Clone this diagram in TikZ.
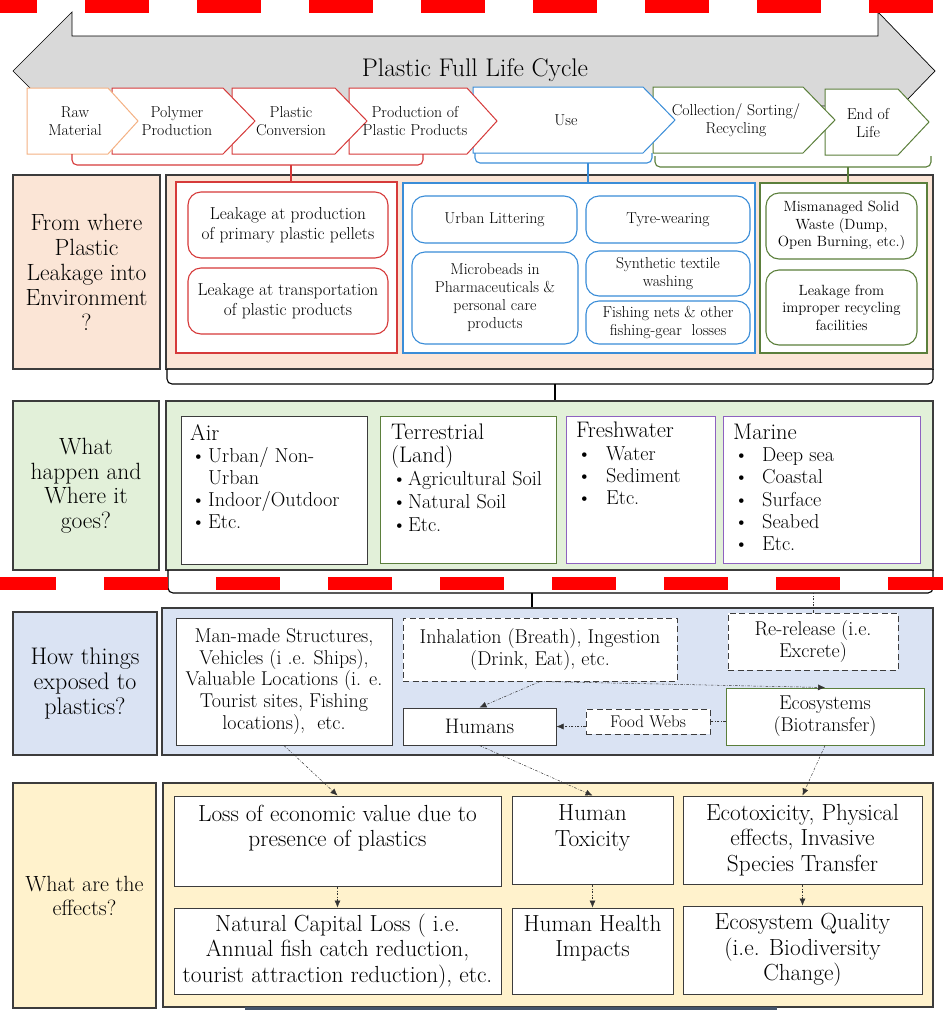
\documentclass[tikz,border=0pt]{standalone}
\usepackage{fontspec}
\usetikzlibrary{arrows.meta}
\definecolor{cred}{HTML}{D63A3A}
\definecolor{corange}{HTML}{F4B183}
\definecolor{cblue}{HTML}{3A8DD8}
\definecolor{cgreen}{HTML}{5B7F3B}
\definecolor{cpurple}{HTML}{8E62C0}
\definecolor{cdark}{HTML}{3C3C3C}
\definecolor{peach}{HTML}{FBE5D6}
\definecolor{lgreen}{HTML}{E2F0D9}
\definecolor{lblue}{HTML}{DAE3F3}
\definecolor{lyellow}{HTML}{FFF2CC}
\definecolor{arrowgray}{HTML}{D9D9D9}
\definecolor{slate}{HTML}{44546A}
\definecolor{dashred}{HTML}{FF0000}
\newcommand\fz[2]{\fontsize{#1}{#2}\selectfont}
\newcommand\rbox[7]{\node[#1,minimum width={#4-#2},minimum height={#5-#3}] (#6) at ({(#2+#4)/2},{(#3+#5)/2}) {#7};}
\newcommand\chev[6]{\draw[#1] (#2,#5) -- (#3,#5) -- (#4,{(#5+#6)/2}) -- (#3,#6) -- (#2,#6) -- cycle;}
\newcommand\bul[1]{\makebox[#1pt][l]{\hspace{1pt}\textbullet}}
\begin{document}
\begin{tikzpicture}[x=1pt,y=-1pt,
  lab/.style={draw=cdark,line width=1.3pt,align=center,font=\fz{23.5}{25},inner sep=0pt},
  cont/.style={draw=cdark,line width=1.3pt,inner sep=0pt},
  grp/.style={fill=white,line width=1.1pt,inner sep=0pt},
  rr/.style={draw=cred,fill=white,rounded corners=13pt,line width=1.1pt,align=center,font=\fz{17.3}{19.5},inner sep=0pt},
  rb/.style={draw=cblue,fill=white,rounded corners=13pt,line width=1.1pt,align=center,font=\fz{15.8}{18},inner sep=0pt},
  rg/.style={draw=cgreen,fill=white,rounded corners=13pt,line width=1.1pt,align=center,font=\fz{14.8}{17.5},inner sep=0pt},
  plain/.style={draw=cdark,fill=white,line width=1pt,align=center,inner sep=0pt},
  dbox/.style={plain,dash pattern=on 6pt off 3.5pt},
  sthree/.style={font=\fz{20}{22}},
  sfour/.style={font=\fz{23.3}{25.5}},
  lst/.style={align=left,font=\fz{20.2}{22.2},inner sep=0pt,anchor=north west},
  chevtxt/.style={align=center,font=\fz{15.8}{17.5},inner sep=0pt},
  chevbox/.style={fill=white,line width=1pt},
  conn/.style={draw=black!80,line width=0.5pt,dash pattern=on 2.5pt off 1.5pt on 0.6pt off 1.5pt,-{Latex[length=7pt,width=6pt]}},
  link/.style={conn,-},
  brk/.style={line width=1.1pt,rounded corners=5pt},
]
\useasboundingbox (0,0) rectangle (943,1010);

% ---------- life cycle arrow ----------
\draw[fill=arrowgray,line width=0.7pt] (13,71) -- (72,12) -- (72,36) -- (878,36) -- (878,12) -- (935,71) -- (878,130) -- (878,106) -- (72,106) -- (72,130) -- cycle;
\node[font=\fz{25.5}{28},inner sep=0pt] (title) at (475,70) {Plastic Full Life Cycle};

\chev{chevbox,draw=cgreen}{825}{898}{929}{89}{155}
\chev{chevbox,draw=cgreen}{653}{803}{835}{87}{153}
\chev{chevbox,draw=cblue}{473}{643}{675}{87}{153}
\chev{chevbox,draw=cred}{349}{467}{497}{88}{154}
\chev{chevbox,draw=cred}{232}{335}{367}{88}{154}
\chev{chevbox,draw=cred}{112}{223}{255}{88}{154}
\chev{chevbox,draw=corange}{27}{108}{138}{88}{154}

\node[chevtxt] (raw) at (75,121) {Raw\\Material};
\node[chevtxt] (poly) at (177,121) {Polymer\\Production};
\node[chevtxt] (conv) at (291,121) {Plastic\\Conversion};
\node[chevtxt] (prod) at (415,121) {Production of\\Plastic Products};
\node[chevtxt] (use) at (566,120) {Use};
\node[chevtxt] (coll) at (736,120) {Collection/ Sorting/\\Recycling};
\node[chevtxt] (eol) at (868,123) {End of\\Life};

% ---------- section 1 ----------
\rbox{lab,fill=peach}{13}{175}{160}{369}{labA}{From where\\Plastic\\Leakage into\\Environment\\?}
\rbox{cont,fill=peach}{166}{175}{933}{369}{contA}{}
\rbox{grp,draw=cred}{176}{182}{397}{353}{redgrp}{}
\rbox{rr}{188}{192}{388}{258}{leakA}{Leakage at production\\of primary plastic pellets}
\rbox{rr}{188}{268}{388}{334}{leakB}{Leakage at transportation\\of plastic products}
\rbox{grp,draw=cblue}{403}{183}{755}{353}{bluegrp}{}
\rbox{rb}{412}{196}{577}{243}{urban}{Urban Littering}
\rbox{rb}{586}{196}{750}{243}{tyre}{Tyre-wearing}
\rbox{rb}{412}{252}{578}{344}{micro}{Microbeads in\\Pharmaceuticals \&\\personal care\\products}
\rbox{rb}{586}{251}{750}{296}{synth}{Synthetic textile\\washing}
\rbox{rb}{586}{301}{750}{344}{fish}{Fishing nets \& other\\fishing-gear\ \ losses}
\rbox{grp,draw=cgreen}{760}{183}{927}{353}{greengrp}{}
\rbox{rg}{766}{193}{917}{259}{mism}{Mismanaged Solid\\Waste (Dump,\\Open Burning, etc.)}
\rbox{rg}{766}{270}{917}{345}{leakC}{Leakage from\\improper recycling\\facilities}

% brackets under chevrons
\coordinate (rt) at (291,165);
\coordinate (bt) at (588,163);
\coordinate (gt) at (848,167);
\draw[brk,draw=cred] (72,154) -- (72,165) -- (423,165) -- (423,154);
\draw[cred,line width=1.1pt] (rt) -- (rt |- redgrp.north);
\draw[brk,draw=cblue] (475,153) -- (475,163) -- (652,163) -- (652,153);
\draw[cblue,line width=1.1pt] (bt) -- (bt |- bluegrp.north);
\draw[brk,draw=cgreen] (655,156) -- (655,167) -- (931,167) -- (931,156);
\draw[cgreen,line width=1.1pt] (gt) -- (gt |- greengrp.north);

% ---------- section 2 ----------
\rbox{lab,fill=lgreen,font=\fz{23.5}{24.5}}{13}{401}{159}{570}{labB}{What\\happen and\\Where it\\goes?}
\rbox{cont,fill=lgreen}{166}{401}{933}{570}{contB}{}
\rbox{plain}{181}{416}{367}{564}{air}{}
\rbox{plain,draw=cgreen}{380}{416}{556}{563}{terr}{}
\rbox{plain,draw=cpurple}{566}{416}{715}{563}{fresh}{}
\rbox{plain,draw=cpurple}{723}{416}{920}{563}{marine}{}
\node[lst] (airt) at (190,424) {{\fz{22.5}{22.2}Air}\\\bul{18}Urban/ Non-\\\hspace*{18pt}Urban\\\bul{18}Indoor/Outdoor\\\bul{18}Etc.};
\node[lst,font=\fz{20.2}{22.8}] (terrt) at (391,424) {{\fz{22.5}{22.8}Terrestrial}\\{\fz{22.5}{22.8}(Land)}\\\bul{17}Agricultural Soil\\\bul{17}Natural Soil\\\bul{17}Etc.};
\node[lst] (fresht) at (576,422) {{\fz{22.5}{22.2}Freshwater}\\\bul{30}Water\\\bul{30}Sediment\\\bul{30}Etc.};
\node[lst] (marinet) at (733,424) {{\fz{22.5}{22.2}Marine}\\\bul{29}Deep sea\\\bul{29}Coastal\\\bul{29}Surface\\\bul{29}Seabed\\\bul{29}Etc.};

% brace under section 1
\coordinate (btA) at (555,384);
\draw[brk] (167,369) -- (167,384) -- (933,384) -- (933,369);
\draw[line width=1.1pt] (btA) -- (btA |- contB.north);

% ---------- section 3 ----------
\rbox{lab,fill=lblue,font=\fz{24}{25}}{13}{612}{157}{755}{labC}{How things\\exposed to\\plastics?}
\rbox{cont,fill=lblue}{162}{608}{933}{755}{contC}{}
\rbox{plain,sthree}{176}{618}{392}{745}{manmade}{Man-made Structures,\\Vehicles (i .e. Ships),\\Valuable Locations (i. e.\\Tourist sites, Fishing\\locations),\ \ etc.}
\rbox{dbox,sthree}{403}{618}{677}{681}{inhal}{Inhalation (Breath), Ingestion\\(Drink, Eat), etc.}
\rbox{dbox,sthree}{728}{613}{898}{670}{rerel}{Re-release (i.e.\\Excrete)}
\rbox{plain,font=\fz{21}{22}}{403}{708}{556}{745}{humans}{Humans}
\rbox{dbox,font=\fz{17}{18}}{586}{709}{710}{734}{food}{Food Webs}
\rbox{plain,sthree,draw=cgreen}{726}{688}{924}{745}{eco}{Ecosystems\\(Biotransfer)}

% brace under section 2
\coordinate (btB) at (532,593);
\draw[brk] (168,570) -- (168,593) -- (933,593) -- (933,570);
\draw[line width=1.1pt] (btB) -- (btB |- contC.north);
\draw[link] (rerel.north) -- (rerel.north |- btB);

% ---------- section 4 ----------
\rbox{lab,fill=lyellow,font=\fz{22}{24}}{13}{783}{156}{1008}{labD}{What are the\\effects?}
\rbox{cont,fill=lyellow}{163}{783}{933}{1007}{contD}{}
\rbox{plain}{174}{796}{501}{886}{loss}{}
\node[sfour,align=center,inner sep=0pt] (losst) at (337.5,828) {Loss of economic value due to\\presence of plastics};
\rbox{plain}{512}{796}{673}{884}{htox}{}
\node[sfour,align=center,inner sep=0pt] (htoxt) at (592.5,828) {Human\\Toxicity};
\rbox{plain,sfour}{683}{796}{922}{884}{ecotox}{Ecotoxicity, Physical\\effects, Invasive\\Species Transfer}
\rbox{plain,sfour}{174}{908}{501}{994}{natcap}{Natural Capital Loss ( i.e.\\Annual fish catch reduction,\\tourist attraction reduction), etc.}
\rbox{plain}{512}{908}{673}{994}{hhealth}{}
\node[sfour,align=center,inner sep=0pt] (hhealtht) at (592.5,938) {Human Health\\Impacts};
\rbox{plain,sfour}{683}{906}{922}{994}{ecoq}{Ecosystem Quality\\(i.e. Biodiversity\\Change)}
\fill[slate] (245,1006.5) rectangle (777,1010);

% ---------- connectors ----------
\draw[conn] (inhal.south) -- (humans.north);
\draw[conn] (inhal.south) -- (eco.north);
\draw[link] (eco.west |- food.east) -- (food.east);
\draw[conn] (food.west |- humans.east) -- (humans.east);
\draw[conn] (manmade.south) -- (loss.north);
\draw[conn] (humans.south) -- (htox.north);
\draw[conn] (eco.south) -- (ecotox.north);
\draw[conn] (loss.south) -- (natcap.north);
\draw[conn] (htox.south) -- (hhealth.north);
\draw[conn] (ecotox.south) -- (ecoq.north);

% ---------- red dashed lines ----------
\draw[dashred,line width=13pt,dash pattern=on 64pt off 48pt,dash phase=27pt] (0,6.5) -- (943,6.5);
\draw[dashred,line width=13pt,dash pattern=on 64pt off 48pt,dash phase=8pt] (0,583.5) -- (943,583.5);
\end{tikzpicture}
\end{document}
